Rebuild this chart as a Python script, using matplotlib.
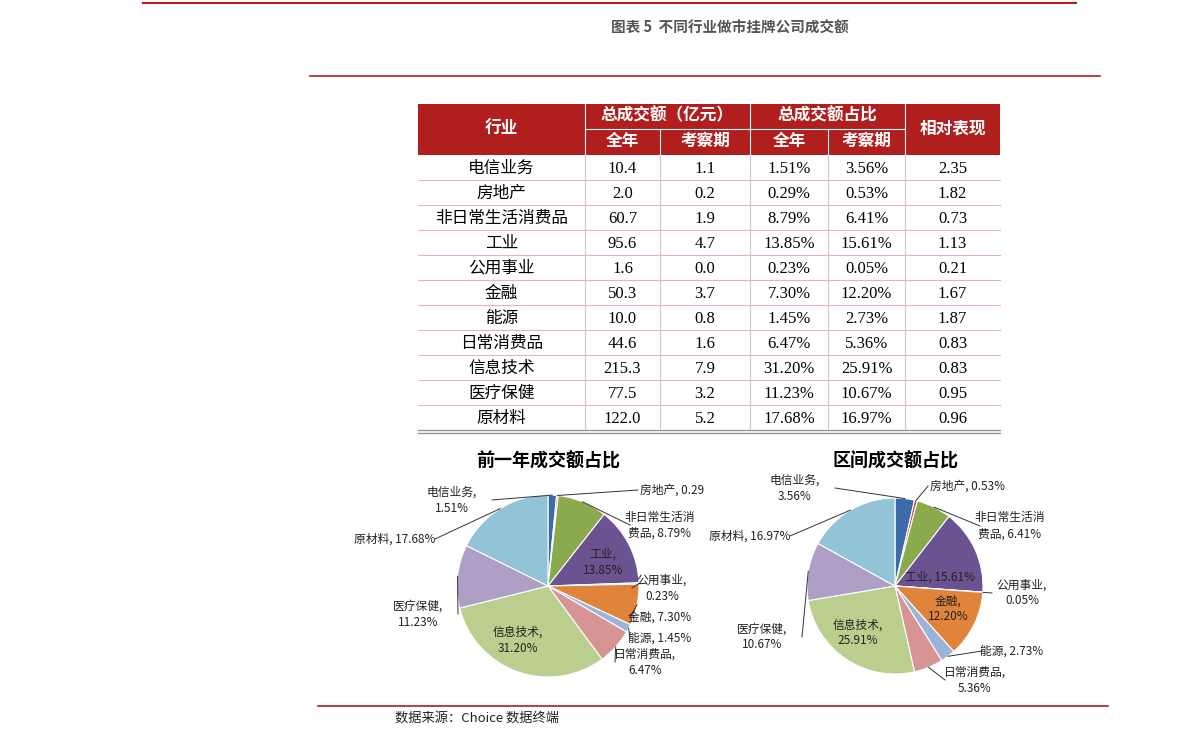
import numpy as np
import matplotlib
matplotlib.use("Agg")
import matplotlib.pyplot as plt

plt.rcParams["font.family"] = ["Liberation Serif", "Noto Sans CJK SC"]

INDUSTRIES = ["电信业务", "房地产", "非日常生活消费品", "工业", "公用事业", "金融",
              "能源", "日常消费品", "信息技术", "医疗保健", "原材料"]
AMT_YEAR = ["10.4", "2.0", "60.7", "95.6", "1.6", "50.3", "10.0", "44.6", "215.3", "77.5", "122.0"]
AMT_PERIOD = ["1.1", "0.2", "1.9", "4.7", "0.0", "3.7", "0.8", "1.6", "7.9", "3.2", "5.2"]
PCT_YEAR = [1.51, 0.29, 8.79, 13.85, 0.23, 7.30, 1.45, 6.47, 31.20, 11.23, 17.68]
PCT_PERIOD = [3.56, 0.53, 6.41, 15.61, 0.05, 12.20, 2.73, 5.36, 25.91, 10.67, 16.97]
RELATIVE = ["2.35", "1.82", "0.73", "1.13", "0.21", "1.67", "1.87", "0.83", "0.83", "0.95", "0.96"]
COLORS = ["#3D6BAA", "#C0504D", "#8BA94D", "#6B5290", "#4BACC6", "#E0843C",
          "#9CB3D9", "#D69594", "#BACE8E", "#AD9FC5", "#92C3D6"]
PIE_LABELS_1 = ["电信业务,\n1.51%", "房地产, 0.29", "非日常生活消\n费品, 8.79%", "工业,\n13.85%",
                "公用事业,\n0.23%", "金融, 7.30%", "能源, 1.45%", "日常消费品,\n6.47%",
                "信息技术,\n31.20%", "医疗保健,\n11.23%", "原材料, 17.68%"]
PIE_LABELS_2 = ["电信业务,\n3.56%", "房地产, 0.53%", "非日常生活消\n费品, 6.41%", "工业, 15.61%",
                "公用事业,\n0.05%", "金融,\n12.20%", "能源, 2.73%", "日常消费品,\n5.36%",
                "信息技术,\n25.91%", "医疗保健,\n10.67%", "原材料, 16.97%"]

W, H = 1191, 748
fig = plt.figure(figsize=(W / 100, H / 100), dpi=100)
bg = fig.add_axes([0, 0, 1, 1])
bg.set_xlim(0, W); bg.set_ylim(H, 0); bg.axis("off")
bg.set_zorder(5); bg.patch.set_alpha(0)

RED = "#B01E1E"
bg.plot([143, 1076], [3, 3], color=RED, lw=1.5)
bg.plot([310, 1100], [76, 76], color=RED, lw=1.2)
bg.plot([318, 1108], [706, 706], color=RED, lw=1.2)
bg.text(730, 28, "图表 5  不同行业做市挂牌公司成交额", ha="center", va="center",
        fontsize=10.5, color="#555555", fontweight="bold", family="Noto Sans CJK SC")
bg.text(395, 718, "数据来源：Choice 数据终端", ha="left", va="center", fontsize=9.5,
        color="#222222", family="Noto Sans CJK SC")

# ---- table
xs = [418, 585, 660, 750, 828, 905, 1000]
top, mid, hb, rh = 104, 129, 155, 25
bg.add_patch(plt.Rectangle((xs[0], top), xs[-1] - xs[0], hb - top, color=RED, lw=0))
hdr = dict(color="white", fontsize=12, ha="center", va="center", fontweight="bold")
bg.text((xs[0] + xs[1]) / 2, (top + hb) / 2, "行业", **hdr)
bg.text((xs[1] + xs[3]) / 2, (top + mid) / 2, "总成交额（亿元）", **hdr)
bg.text((xs[3] + xs[5]) / 2, (top + mid) / 2, "总成交额占比", **hdr)
bg.text((xs[5] + xs[6]) / 2, (top + hb) / 2, "相对表现", **hdr)
for i, t in enumerate(["全年", "考察期", "全年", "考察期"]):
    bg.text((xs[i + 1] + xs[i + 2]) / 2, (mid + hb) / 2, t, **hdr)
for x0, x1 in [(xs[1], xs[3]), (xs[3], xs[5])]:
    bg.plot([x0, x1], [mid, mid], color="white", lw=0.8)
for x in xs[1:-1]:
    y0 = mid if x in (xs[2], xs[4]) else top
    bg.plot([x, x], [y0, hb], color="white", lw=0.8)
for r in range(len(INDUSTRIES)):
    yc = hb + rh * r + rh / 2
    vals = [INDUSTRIES[r], AMT_YEAR[r], AMT_PERIOD[r], f"{PCT_YEAR[r]:.2f}%",
            f"{PCT_PERIOD[r]:.2f}%", RELATIVE[r]]
    for c, v in enumerate(vals):
        bg.text((xs[c] + xs[c + 1]) / 2, yc + 1, v, ha="center", va="center",
                fontsize=12, color="black")
    if r < len(INDUSTRIES) - 1:
        bg.plot([xs[0], xs[-1]], [hb + rh * (r + 1)] * 2, color="#E8B4B4", lw=0.8)
bot = hb + rh * len(INDUSTRIES)
for x in xs[1:-1]:
    bg.plot([x, x], [hb, bot], color="#C8C8C8", lw=0.8)
bg.plot([xs[0], xs[-1]], [bot, bot], color="#999999", lw=1)
bg.plot([xs[0], xs[-1]], [bot + 3, bot + 3], color="#999999", lw=1)

# ---- pies
POS1 = [(452, 500), (640, 490), (660, 525), (603, 562), (662, 588), (660, 617),
        (660, 638), (645, 662), (518, 640), (418, 614), (395, 539)]
POS2 = [(795, 488), (930, 486), (1010, 526), (940, 577), (1022, 593), (948, 609),
        (1012, 651), (975, 680), (858, 633), (762, 637), (750, 536)]
specs = [(548, 586, 91, PCT_YEAR, PIE_LABELS_1, "前一年成交额占比", POS1, {3, 8}),
         (895, 586, 88, PCT_PERIOD, PIE_LABELS_2, "区间成交额占比", POS2, {3, 5, 8})]
for cx, cy, rp, vals, labs, title, pos, inside in specs:
    half = 2.2 * rp
    ax = fig.add_axes([(cx - half) / W, 1 - (cy + half) / H, 2 * half / W, 2 * half / H])
    ax.set_zorder(1)
    wedges, _ = ax.pie(vals, colors=COLORS, startangle=90, counterclock=False,
                       wedgeprops=dict(edgecolor="white", linewidth=0.8))
    ax.set_xlim(-2.2, 2.2); ax.set_ylim(-2.2, 2.2); ax.axis("off")
    bg.text(cx, 461, title, ha="center", va="center", fontsize=13, fontweight="bold",
            family="Noto Sans CJK SC")
    for i, w in enumerate(wedges):
        tx, ty = pos[i]
        ha = "left" if i == 1 else "center"
        bg.text(tx, ty, labs[i], ha=ha, va="center", fontsize=8.5, linespacing=1.3,
                color="#222222", family="Noto Sans CJK SC")
        if i in inside:
            continue
        a = np.deg2rad((w.theta1 + w.theta2) / 2)
        ex, ey = cx + rp * np.cos(a), cy - rp * np.sin(a)
        lx = tx - (30 if tx > cx else -40)
        if ha == "left":
            lx = tx - 2
        bg.plot([ex, lx], [ey, ty], color="#333333", lw=0.7)

fig.savefig("out.png", dpi=100)
